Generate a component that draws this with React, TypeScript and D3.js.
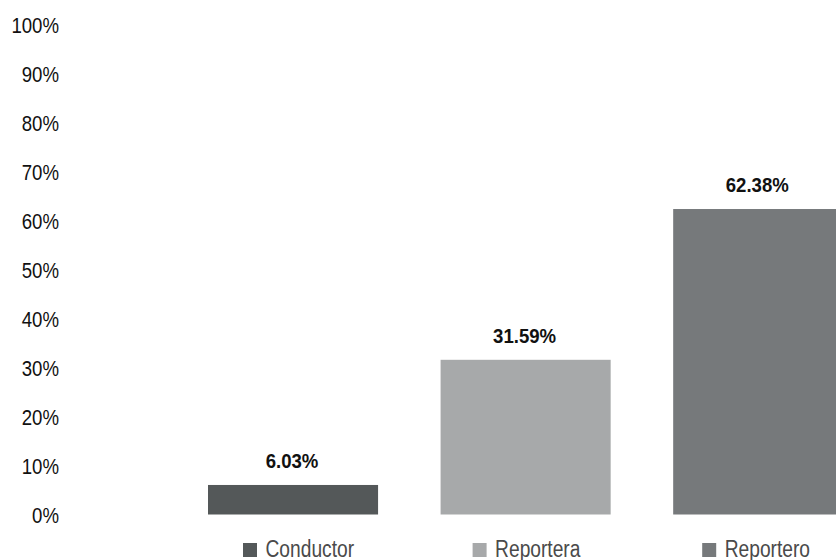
import React from "react";
import * as d3 from "d3";

const categories = ["Conductor", "Reportera", "Reportero"];
const values = [6.03, 31.59, 62.38];
const valueLabels = ["6.03%", "31.59%", "62.38%"];
const colors = ["#545859", "#a7a9aa", "#76797b"];
const yTicks = [0, 10, 20, 30, 40, 50, 60, 70, 80, 90, 100];

const W = 836;
const H = 560;
const FONT = "'Liberation Sans', Arial, sans-serif";
const NARROW = 0.81;

export default function App() {
  const x = d3
    .scaleBand<string>()
    .domain(categories)
    .range([208, 843.25])
    .paddingInner(0.2688)
    .paddingOuter(0);
  const y = d3.scaleLinear().domain([0, 100]).range([514.5, 24.8]);

  return (
    <svg
      width={W}
      height={H}
      style={{ position: "fixed", left: 0, top: 0, background: "#fff" }}
      fontFamily={FONT}
    >
      <rect x={0} y={0} width={W} height={H} fill="#fff" />
      {yTicks.map((t) => (
        <text
          key={t}
          transform={`translate(59,${y(t) + 8}) scale(${NARROW},1)`}
          textAnchor="end"
          fontSize={23}
          fill="#111"
        >
          {t}%
        </text>
      ))}
      {categories.map((c, i) => (
        <g key={c}>
          <rect
            x={x(c)}
            y={y(values[i])}
            width={x.bandwidth()}
            height={y(0) - y(values[i])}
            fill={colors[i]}
          />
          <text
            transform={`translate(${(x(c) as number) + x.bandwidth() / 2 - 1},${
              y(values[i]) - 17
            }) scale(0.93,1)`}
            textAnchor="middle"
            fontSize={20}
            fontWeight="bold"
            fill="#111"
          >
            {valueLabels[i]}
          </text>
        </g>
      ))}
      {categories.map((c, i) => {
        const lx = 243 + i * 229.6;
        return (
          <g key={"leg" + c}>
            <rect x={lx} y={543} width={14} height={14} fill={colors[i]} />
            <text
              transform={`translate(${lx + 22.5},556.5) scale(0.835,1)`}
              fontSize={23}
              fill="#4a4a4a"
            >
              {c}
            </text>
          </g>
        );
      })}
    </svg>
  );
}
